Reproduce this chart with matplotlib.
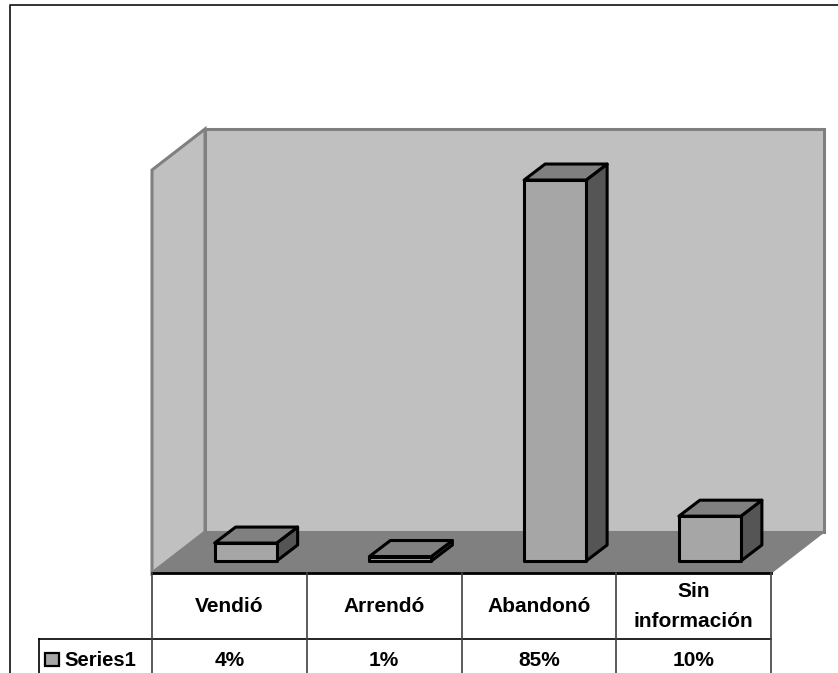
import matplotlib
matplotlib.use('Agg')
import matplotlib.pyplot as plt
from matplotlib.patches import Polygon, Rectangle

# Data
categories = ['Vendió', 'Arrendó', 'Abandonó', 'Sin\ninformación']
values = [4, 1, 85, 10]
value_labels = ['4%', '1%', '85%', '10%']
series_name = 'Series1'

plt.rcParams['font.family'] = ['Liberation Sans', 'DejaVu Sans']

W, H = 838, 673
fig = plt.figure(figsize=(W / 100, H / 100), dpi=100)
ax = fig.add_axes([0, 0, 1, 1])

# one x unit is one category, y is in percent
px_x = 154.75
px_y = 4.482
x0 = 152
y0 = 561
ax.set_xlim(-x0 / px_x, (W - x0) / px_x)
ax.set_ylim((y0 - H) / px_y, y0 / px_y)
ax.axis('off')

# oblique depth of the bars and of the chart box
dx = 21 / px_x
dy = 16 / px_y
wall_dx = 53 / px_x
wall_dy = 41 / px_y
floor_y = -12 / px_y
wall_top = (y0 - 129) / px_y
n = len(categories)
bar_w = 62 / px_x
bar_off = 0.105

WALL = '#c0c0c0'
FLOOR = '#808080'

# chart frame, runs off the right and bottom of the picture
frame_l = (9.5 - x0) / px_x
frame_t = (y0 - 4.5) / px_y
ax.plot([frame_l, frame_l, (W + 5 - x0) / px_x], [(y0 - H - 5) / px_y, frame_t, frame_t],
        color='#222222', lw=1.3, zorder=0)

# walls and floor
ax.add_patch(Polygon([(wall_dx, floor_y + wall_dy), (n + wall_dx, floor_y + wall_dy),
                      (n + wall_dx, wall_top), (wall_dx, wall_top)],
                     fc=WALL, ec=FLOOR, lw=2.2, zorder=1))
ax.add_patch(Polygon([(0, floor_y), (wall_dx, floor_y + wall_dy), (wall_dx, wall_top),
                      (0, wall_top - wall_dy)], fc=WALL, ec=FLOOR, lw=2.2, zorder=1))
ax.add_patch(Polygon([(0, floor_y), (n, floor_y), (n + wall_dx, floor_y + wall_dy),
                      (wall_dx, floor_y + wall_dy)], fc=FLOOR, ec=FLOOR, lw=1, zorder=2))

# bars
for i, v in enumerate(values):
    l = i + 0.5 + bar_off - bar_w / 2
    r = l + bar_w
    ax.add_patch(Polygon([(r, 0), (r + dx, dy), (r + dx, v + dy), (r, v)],
                         fc='#555555', ec='black', lw=2.2, joinstyle='round', zorder=3))
    ax.add_patch(Polygon([(l, v), (r, v), (r + dx, v + dy), (l + dx, v + dy)],
                         fc='#808080', ec='black', lw=2.2, joinstyle='round', zorder=3))
    ax.add_patch(Polygon([(l, 0), (r, 0), (r, v), (l, v)],
                         fc='#a6a6a6', ec='black', lw=2.2, joinstyle='round', zorder=4))

# data table
bottom = (y0 - H - 5) / px_y
row_y = (y0 - 639) / px_y
leg_l = (39 - x0) / px_x
ax.plot([0, n], [floor_y, floor_y], color='black', lw=2, zorder=5)
ax.plot([leg_l, n], [row_y, row_y], color='black', lw=1.2, zorder=5)
ax.plot([leg_l, leg_l], [bottom, row_y], color='black', lw=1.2, zorder=5)
for i in range(n + 1):
    ax.plot([i, i], [bottom, floor_y], color='#404040', lw=1.2, zorder=5)

for i in range(n):
    ax.text(i + 0.5, (y0 - 606.5) / px_y, categories[i], ha='center', va='center',
            fontsize=15, fontweight='bold', linespacing=1.7)
    ax.text(i + 0.5, (y0 - 660) / px_y, value_labels[i], ha='center', va='center',
            fontsize=15, fontweight='bold')

ax.add_patch(Rectangle(((45 - x0) / px_x, (y0 - 666) / px_y), 14 / px_x, 13 / px_y,
                       fc='#a6a6a6', ec='black', lw=1.6, zorder=5))
ax.text((64 - x0) / px_x, (y0 - 660) / px_y, series_name, ha='left', va='center',
        fontsize=14.6, fontweight='bold')

fig.savefig('out.png', dpi=100)
